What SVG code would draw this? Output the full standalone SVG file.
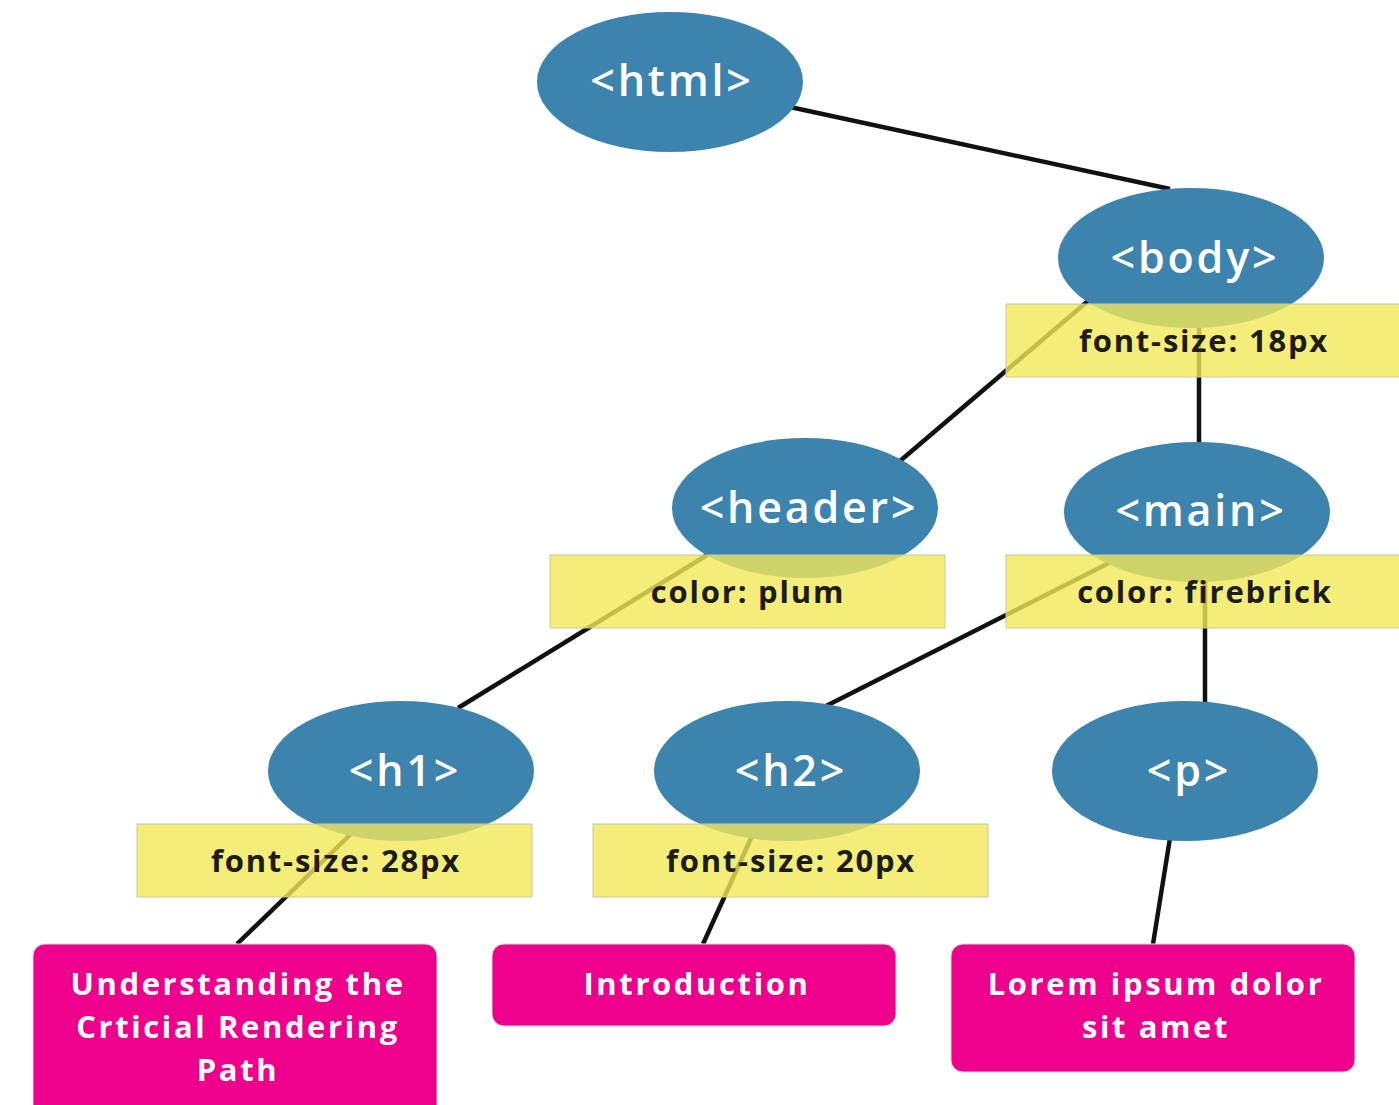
<svg xmlns="http://www.w3.org/2000/svg" width="1399" height="1105" viewBox="0 0 1399 1105">
<style>
.el{fill:#3c84ae}
.et{fill:#ffffff;font-family:"Open Sans","DejaVu Sans",sans-serif;font-weight:600;font-size:43px;letter-spacing:2.8px;text-anchor:middle;dominant-baseline:central}
.yb{fill:#f3e857;fill-opacity:0.8;stroke:#c8c8a0;stroke-width:1}
.yt{fill:#1c1c1c;font-family:"Open Sans","DejaVu Sans",sans-serif;font-weight:700;font-size:31px;letter-spacing:1.8px;text-anchor:middle;dominant-baseline:central}
.pb{fill:#ec008c;stroke:#d8d8d8;stroke-width:1}
.pt{fill:#ffffff;font-family:"Open Sans","DejaVu Sans",sans-serif;font-weight:700;font-size:31px;letter-spacing:2.6px;text-anchor:middle;dominant-baseline:central}
.ln{stroke:#111;stroke-width:4.5;fill:none}
</style>
<rect width="1399" height="1105" fill="#ffffff"/>
<g id="connectors">
<line class="ln" x1="790" y1="107" x2="1170" y2="189"/>
<line class="ln" x1="1095" y1="295" x2="900" y2="461"/>
<line class="ln" x1="1199" y1="320" x2="1199" y2="445"/>
<line class="ln" x1="712" y1="552" x2="458" y2="708"/>
<line class="ln" x1="1115" y1="560" x2="826" y2="706"/>
<line class="ln" x1="1205" y1="575" x2="1205" y2="705"/>
<line class="ln" x1="352" y1="833" x2="237" y2="944"/>
<line class="ln" x1="752" y1="836" x2="703" y2="944"/>
<line class="ln" x1="1170" y1="838" x2="1153" y2="944"/>
</g>
<g id="html"><ellipse class="el" cx="670" cy="82" rx="133" ry="70"/><text class="et" x="672" y="79">&lt;html&gt;</text></g>
<g id="body"><ellipse class="el" cx="1191" cy="258" rx="133" ry="70"/><text class="et" x="1195" y="256">&lt;body&gt;</text></g>
<g id="header"><ellipse class="el" cx="805" cy="508" rx="133" ry="70"/><text class="et" x="809" y="506">&lt;header&gt;</text></g>
<g id="main"><ellipse class="el" cx="1197" cy="512" rx="133" ry="70"/><text class="et" x="1201" y="509">&lt;main&gt;</text></g>
<g id="h1"><ellipse class="el" cx="401" cy="771" rx="133" ry="70"/><text class="et" x="405" y="769">&lt;h1&gt;</text></g>
<g id="h2"><ellipse class="el" cx="787" cy="771" rx="133" ry="70"/><text class="et" x="791" y="769">&lt;h2&gt;</text></g>
<g id="p"><ellipse class="el" cx="1185" cy="771" rx="133" ry="70"/><text class="et" x="1189" y="769">&lt;p&gt;</text></g>
<g id="style-body"><rect class="yb" x="1006" y="304" width="400" height="73"/><text class="yt" x="1204" y="340">font-size: 18px</text></g>
<g id="style-header"><rect class="yb" x="550" y="555" width="395" height="73"/><text class="yt" x="748" y="591">color: plum</text></g>
<g id="style-main"><rect class="yb" x="1006" y="555" width="400" height="73"/><text class="yt" x="1205" y="591">color: firebrick</text></g>
<g id="style-h1"><rect class="yb" x="137" y="824" width="395" height="73"/><text class="yt" x="336" y="860">font-size: 28px</text></g>
<g id="style-h2"><rect class="yb" x="593" y="824" width="395" height="73"/><text class="yt" x="791" y="860">font-size: 20px</text></g>
<g id="text-h1"><rect class="pb" x="33" y="944" width="404" height="175" rx="12"/><text class="pt" x="238" y="983">Understanding the</text><text class="pt" x="238" y="1026">Crticial Rendering</text><text class="pt" x="238" y="1069">Path</text></g>
<g id="text-h2"><rect class="pb" x="492" y="944" width="404" height="82" rx="12"/><text class="pt" x="697" y="983">Introduction</text></g>
<g id="text-p"><rect class="pb" x="951" y="944" width="404" height="128" rx="12"/><text class="pt" x="1156" y="983">Lorem ipsum dolor</text><text class="pt" x="1156" y="1026">sit amet</text></g>
</svg>
